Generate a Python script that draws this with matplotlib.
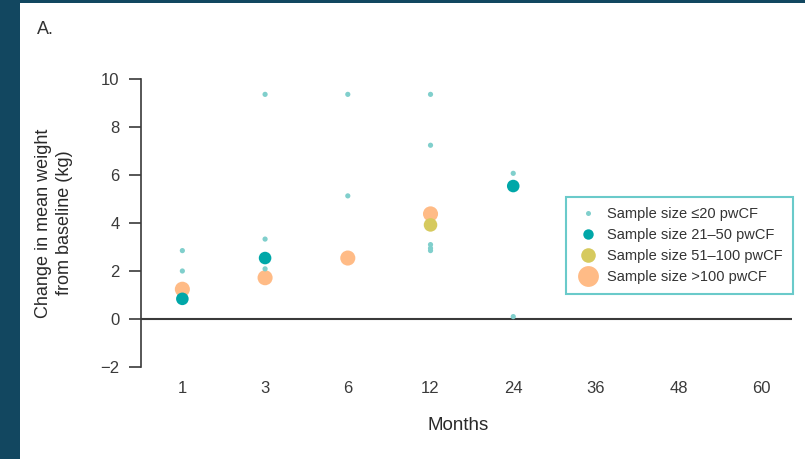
import matplotlib.pyplot as plt
from matplotlib.patches import Rectangle
from matplotlib.lines import Line2D

# Month categories on the x axis
months = ['1', '3', '6', '12', '24', '36', '48', '60']

# Studies with sample size <=20 pwCF: (month index, change in kg)
small_x = [0, 0, 1, 1, 1, 2, 2, 3, 3, 3, 3, 3, 4, 4]
small_y = [2.85, 2.0, 9.36, 3.33, 2.09, 9.36, 5.13, 9.36, 7.24, 3.1, 2.95, 2.85, 6.07, 0.1]

# Sample size 21-50 pwCF
mid_x = [0, 1, 4]
mid_y = [0.84, 2.54, 5.54]

# Sample size 51-100 pwCF
large_x = [3]
large_y = [3.92]

# Sample size >100 pwCF
xl_x = [0, 1, 2, 3]
xl_y = [1.24, 1.72, 2.54, 4.38]

labels = ['Sample size \u226420 pwCF', 'Sample size 21\u201350 pwCF',
          'Sample size 51\u2013100 pwCF', 'Sample size >100 pwCF']
colors = ['#80cfcc', '#00a7a8', '#d6ca5e', '#ffbb86']

plt.rcParams['font.family'] = ['Liberation Sans', 'DejaVu Sans']

fig = plt.figure(figsize=(8.05, 4.59), dpi=100)
fig.patch.set_facecolor('#124760')
# white panel inside the dark frame
fig.add_artist(Rectangle((20 / 805, 0), 1, 1 - 3 / 459, transform=fig.transFigure,
                         facecolor='white', edgecolor='none', zorder=-10))

ax = fig.add_axes([141 / 805, 1 - 367 / 459, 651 / 805, 288 / 459])
ax.set_facecolor('none')

ax.scatter(small_x, small_y, s=14, color=colors[0], edgecolors='none', zorder=3, clip_on=False)
ax.scatter(mid_x, mid_y, s=82, color=colors[1], edgecolors='none', zorder=4, clip_on=False)
ax.scatter(large_x, large_y, s=95, color=colors[2], edgecolors='none', zorder=3, clip_on=False)
ax.scatter(xl_x, xl_y, s=118, color=colors[3], edgecolors='none', zorder=2, clip_on=False)

ax.axhline(0, color='#3a3a3a', lw=1.5, zorder=1)

ax.set_xlim(-0.5, 7.37)
ax.set_ylim(-2, 10)
ax.set_xticks(range(len(months)))
ax.set_xticklabels(months)
ax.set_yticks([-2, 0, 2, 4, 6, 8, 10])
ax.set_yticklabels(['\u22122', '0', '2', '4', '6', '8', '10'])

for side in ['top', 'right', 'bottom']:
    ax.spines[side].set_visible(False)
ax.spines['left'].set_color('#3a3a3a')
ax.spines['left'].set_linewidth(1.2)
ax.tick_params(axis='x', length=0, pad=10, labelsize=12, colors='#3a3a3a')
ax.tick_params(axis='y', length=8.5, width=1.2, pad=7, labelsize=12, colors='#3a3a3a')

fig.text(458 / 805, 1 - 425 / 459, 'Months', fontsize=13.5, color='#2a2a2a',
         ha='center', va='center')
fig.text(54 / 805, 1 - 223 / 459, 'Change in mean weight\nfrom baseline (kg)', fontsize=13,
         color='#2a2a2a', rotation=90, ha='center', va='center', linespacing=1.35)
fig.text(37 / 805, 1 - 30 / 459, 'A.', fontsize=13, color='#333333', va='center')

# legend with larger symbols than in the plot
sizes = [3.6, 7.5, 10.5, 15]
handles = [Line2D([], [], ls='none', marker='o', ms=ms, color=c, mec='none')
           for ms, c in zip(sizes, colors)]
leg = ax.legend(handles, labels, loc='upper left', bbox_to_anchor=(425 / 651, 170 / 288),
                fontsize=10.5, frameon=True, fancybox=False, borderpad=0.7,
                borderaxespad=0, handlelength=1.6, handletextpad=0.5, labelspacing=0.47)
leg.get_frame().set_edgecolor('#45bdbd')
leg.get_frame().set_linewidth(1.5)
for t in leg.get_texts():
    t.set_color('#333333')

fig.savefig('out.png', dpi=100, facecolor=fig.get_facecolor())
